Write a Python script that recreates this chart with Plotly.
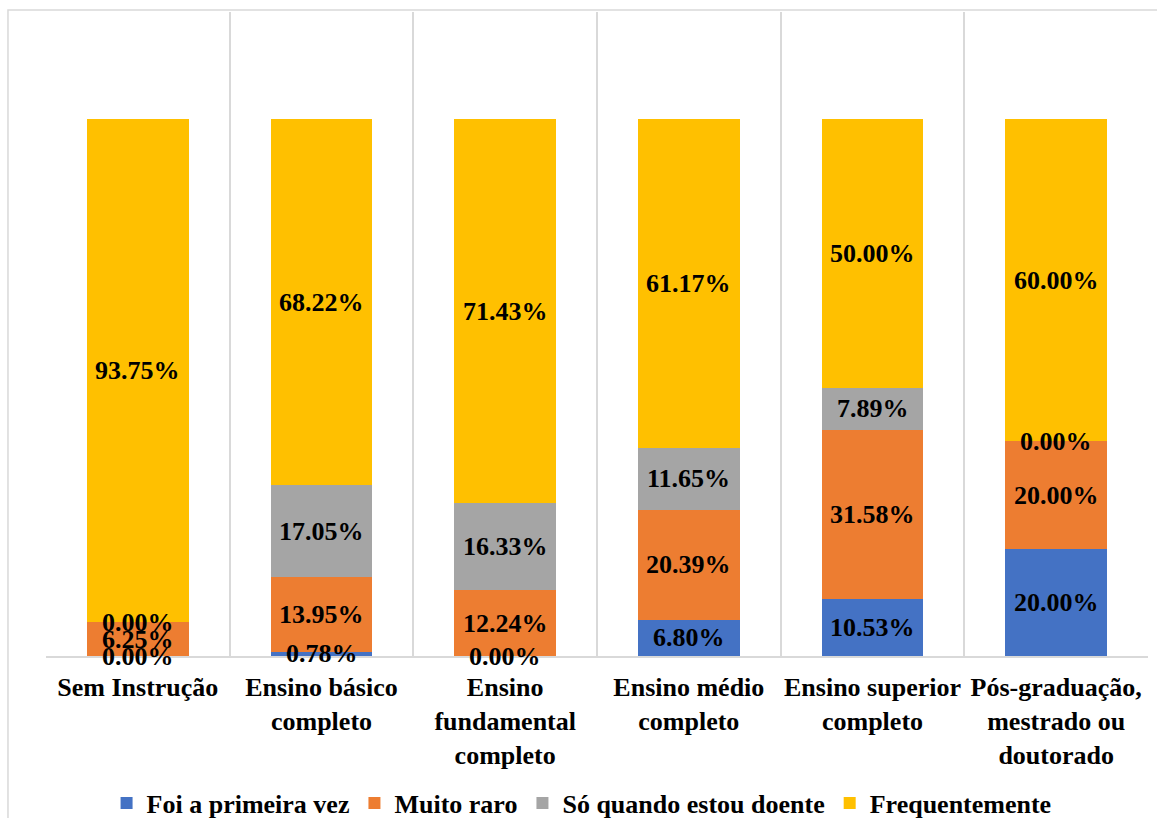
import numpy as np
import plotly.graph_objects as go

# Education levels (x categories)
categories = [
    "Sem Instrução",
    "Ensino básico<br>completo",
    "Ensino<br>fundamental<br>completo",
    "Ensino médio<br>completo",
    "Ensino superior<br>completo",
    "Pós-graduação,<br>mestrado ou<br>doutorado",
]

# Share of respondents per answer (%)
foi_primeira_vez = [0.00, 0.78, 0.00, 6.80, 10.53, 20.00]
muito_raro = [6.25, 13.95, 12.24, 20.39, 31.58, 20.00]
so_quando_doente = [0.00, 17.05, 16.33, 11.65, 7.89, 0.00]
frequentemente = [93.75, 68.22, 71.43, 61.17, 50.00, 60.00]

series = [
    ("Foi a primeira vez", foi_primeira_vez, "#4472C4"),
    ("Muito raro", muito_raro, "#ED7D31"),
    ("Só quando estou doente", so_quando_doente, "#A5A5A5"),
    ("Frequentemente", frequentemente, "#FFC000"),
]

FONT = "Liberation Serif"
FS = 26
x = np.arange(len(categories))

fig = go.Figure()
base = np.zeros(len(categories))
annotations = []
for name, vals, color in series:
    vals = np.array(vals, dtype=float)
    fig.add_trace(go.Bar(
        x=x, y=vals, name=name, marker=dict(color=color, line=dict(width=0)),
        width=0.555,
    ))
    # value label centred on each stacked segment (also for empty ones)
    for xi, (v, b) in enumerate(zip(vals, base)):
        annotations.append(dict(
            x=xi, y=b + v / 2, xref="x", yref="y", text=f"{v:.2f}%",
            showarrow=False, yanchor="middle",
            font=dict(family=FONT, size=FS, color="black", weight="bold"),
        ))
    base = base + vals

# light frame around the whole chart
shapes = [dict(type="rect", xref="paper", yref="paper",
               x0=-0.0345, x1=1.05, y0=-0.4, y1=1.0031,
               line=dict(color="#d9d9d9", width=1.5), fillcolor="rgba(0,0,0,0)",
               layer="below")]

fig.update_layout(
    barmode="stack",
    width=1157, height=818,
    margin=dict(l=46, r=9, t=12, b=162),
    paper_bgcolor="white", plot_bgcolor="white",
    font=dict(family=FONT, size=FS, color="black", weight="bold"),
    showlegend=True,
    legend=dict(orientation="h", x=0.486, xanchor="center",
                y=0.0183, yref="container", yanchor="middle",
                font=dict(family=FONT, size=FS, color="black", weight="bold"),
                traceorder="normal", itemwidth=30),
    annotations=annotations,
    shapes=shapes,
    xaxis=dict(
        range=[-0.5, len(categories) - 0.5],
        tickvals=list(x), ticktext=categories,
        showgrid=False, zeroline=False, automargin=False,
        showline=True, linecolor="#d9d9d9", linewidth=2,
        ticks="outside", ticklen=7, tickcolor="rgba(0,0,0,0)",
        tickfont=dict(family=FONT, size=FS, color="black", weight="bold"),
        minor=dict(tickvals=list(np.arange(-0.5, len(categories), 1.0)),
                   showgrid=True, gridcolor="#d9d9d9", gridwidth=2, ticks=""),
    ),
    yaxis=dict(range=[0, 120], visible=False, showgrid=False, zeroline=False,
               automargin=False),
)

fig.write_html("out.html")
